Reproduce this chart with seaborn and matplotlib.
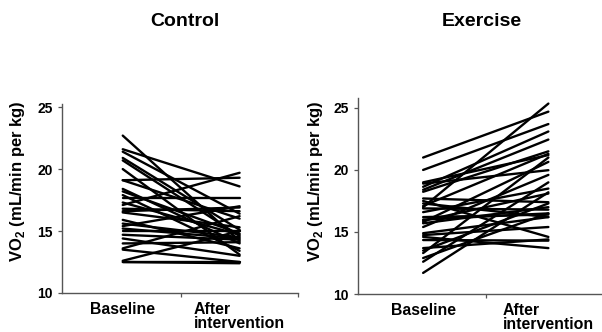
import numpy as np
import pandas as pd
import matplotlib
matplotlib.use("Agg")
import matplotlib.pyplot as plt
import seaborn as sns

# VO2 per subject, baseline -> after intervention
control_baseline = [22.7, 21.6, 21.4, 20.9, 20.7, 20.0, 19.1, 19.1, 18.4, 18.2,
                    17.9, 17.7, 17.1, 16.8, 16.6, 16.5, 15.9, 15.6, 15.4, 15.0,
                    14.7, 14.4, 14.0, 13.6, 13.5, 12.6, 12.5, 12.5, 17.3, 15.2]
control_after = [14.2, 18.6, 16.4, 15.1, 14.6, 13.1, 19.3, 16.0, 14.0, 14.8,
                 13.4, 17.7, 19.7, 16.6, 16.9, 15.3, 13.6, 14.5, 17.0, 15.0,
                 14.3, 13.0, 14.1, 16.2, 12.5, 15.0, 12.5, 12.4, 14.7, 14.4]

exercise_baseline = [21.0, 20.0, 17.0, 11.7, 12.6, 12.9, 13.3, 13.5, 13.7, 14.35,
                     14.6, 14.75, 14.9, 15.4, 15.7, 15.8, 16.2, 16.6, 16.9, 17.1,
                     17.3, 17.7, 18.24, 18.4, 18.64, 18.9, 19.0, 15.9, 16.0, 17.5]
exercise_after = [24.7, 23.7, 25.35, 18.2, 19.0, 16.5, 21.0, 17.3, 14.4, 14.3,
                  13.7, 15.4, 16.2, 19.6, 17.0, 20.65, 16.4, 18.5, 16.8, 21.3,
                  16.2, 17.4, 21.5, 22.45, 23.1, 19.98, 21.2, 18.1, 16.5, 14.6]

groups = ["Control", "Exercise"]
time_labels = ["Baseline", "After\nintervention"]


def to_long(before, after):
    n = len(before)
    return pd.DataFrame({
        "subject": np.tile(np.arange(n), 2),
        "time": np.repeat([0, 1], n),
        "vo2": list(before) + list(after),
    })


sns.set_style("white", {"text.color": "black", "axes.labelcolor": "black",
                        "xtick.color": "black", "ytick.color": "black"})
plt.rcParams["font.family"] = ["Liberation Sans", "DejaVu Sans"]
plt.rcParams["font.weight"] = "bold"
plt.rcParams["mathtext.fontset"] = "custom"
plt.rcParams["mathtext.rm"] = "Liberation Sans:bold"
plt.rcParams["mathtext.bf"] = "Liberation Sans:bold"

W, H = 602, 332
fig = plt.figure(figsize=(W / 100, H / 100), dpi=100)
# axes boxes measured in pixels: left, top, right, bottom
ax1 = fig.add_axes([62 / W, 1 - 293 / H, (298 - 62) / W, (293 - 104) / H])
ax2 = fig.add_axes([358 / W, 1 - 294 / H, (611 - 358) / W, (294 - 98) / H])

panels = [
    (ax1, to_long(control_baseline, control_after), (10, 25.25), 185,
     (-0.15, 0.59)),
    (ax2, to_long(exercise_baseline, exercise_after), (10, 25.8), 482,
     (-0.132, 0.577)),
]

for (ax, df, ylim, title_x, lab_xy), name in zip(panels, groups):
    sns.lineplot(data=df, x="time", y="vo2", units="subject", estimator=None,
                 color="black", linewidth=1.7, ax=ax)
    ax.set_xlim(-0.52, 1.5)
    ax.set_ylim(*ylim)
    ax.set_yticks([10, 15, 20, 25])
    ax.set_xticks([0, 1], time_labels, fontsize=11.4, fontweight="bold",
                  multialignment="left", linespacing=0.9)
    ax.set_xticks([0.5, 1.5], minor=True)
    ax.tick_params(axis="x", which="major", length=0, pad=6.5)
    ax.tick_params(axis="x", which="minor", length=3, width=0.9,
                   color="#555555", direction="out", bottom=True)
    ax.tick_params(axis="y", length=3, width=0.9, color="#555555",
                   labelcolor="black", labelsize=10, direction="out",
                   left=True, pad=3.5)
    ax.set_xlabel("")
    ax.set_ylabel(r"VO$_{2}$ (mL/min per kg)", fontsize=12, fontweight="bold")
    ax.yaxis.set_label_coords(*lab_xy)
    sns.despine(ax=ax)
    for s in ["left", "bottom"]:
        ax.spines[s].set_color("#555555")
        ax.spines[s].set_linewidth(1.0)
    fig.text(title_x / W, 1 - 21 / H, name, ha="center", va="center",
             fontsize=14, fontweight="bold")

fig.savefig("out.png", dpi=100)
